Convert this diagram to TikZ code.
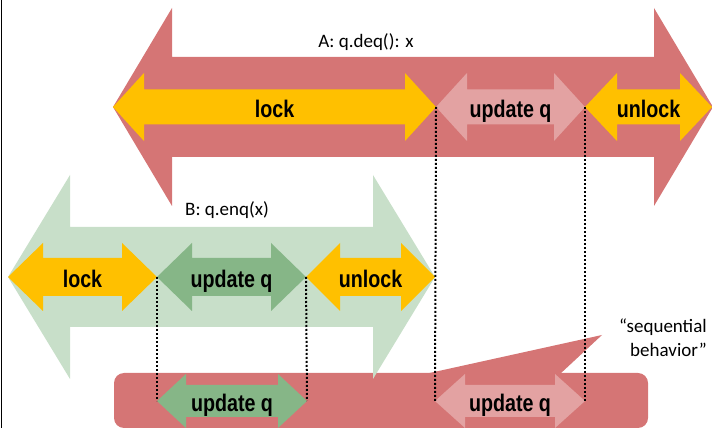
\documentclass[tikz,border=0pt]{standalone}
\usepackage{fontspec}
\setmainfont{Carlito}
\newfontfamily\lblfont{Liberation Sans Bold}[FakeStretch=0.82]
\definecolor{cRed}{HTML}{D57575}
\definecolor{cPink}{HTML}{E3A2A2}
\definecolor{cYel}{HTML}{FFC000}
\definecolor{cLGreen}{HTML}{C8DFC9}
\definecolor{cDGreen}{HTML}{86B687}
% #1 fill, #2 left tip x, #3 right tip x, #4 centre y, #5 head length, #6 head half height, #7 shaft half height
\newcommand{\dblarr}[7]{%
  \fill[#1] (#2,#4) -- (#2+#5,#4+#6) -- (#2+#5,#4+#7) -- (#3-#5,#4+#7) -- (#3-#5,#4+#6)
    -- (#3,#4) -- (#3-#5,#4-#6) -- (#3-#5,#4-#7) -- (#2+#5,#4-#7) -- (#2+#5,#4-#6) -- cycle;}
\tikzset{
  lbl/.style={font=\lblfont\fontsize{24}{24}\selectfont, anchor=base, inner sep=0pt, text=black},
  captxt/.style={font=\fontsize{19}{23}\selectfont, inner sep=0pt, text=black},
  vline/.style={line width=2pt, dash pattern=on 2pt off 2pt, black},
}
\begin{document}
\begin{tikzpicture}[x=1pt,y=1pt]
\useasboundingbox (0,0) rectangle (712,428);
% left frame line
\draw[line width=1pt] (1,0) -- (1,428);
% thread A
\dblarr{cRed}{113}{713}{321}{59}{99}{50}
\dblarr{cYel}{113}{436}{321}{31}{34}{17.5}
\dblarr{cPink}{436}{585}{321}{31}{34}{17.5}
\dblarr{cYel}{585}{712}{321}{32}{34}{17.5}
\node[captxt, anchor=base] (alabel) at (366,380) {A: q.deq(): x};
\node[lbl] (alock) at (274.5,310.5) {lock};
\node[lbl] (aupd) at (510.5,310.5) {update q};
\node[lbl] (aunl) at (648.5,310.5) {unlock};
% sequential box
\fill[cRed, rounded corners=10pt] (114,0) rectangle (648,55);
\fill[cRed] (425,54) -- (602,93) -- (560,54) -- cycle;
\node[captxt, anchor=base east] (seq1) at (707,95) {“sequential};
\node[captxt, anchor=base east] (seq2) at (707,71) {behavior”};
% thread B
\dblarr{cLGreen}{8}{435}{151}{62}{102}{50}
\dblarr{cYel}{8}{157}{151}{35}{34}{19}
\dblarr{cDGreen}{157}{306}{151}{35}{34}{19}
\dblarr{cYel}{306}{435}{151}{34}{34}{19}
\node[captxt, anchor=base] (blabel) at (227,212) {B: q.enq(x)};
\node[lbl] (block) at (82.5,140.5) {lock};
\node[lbl] (bupd) at (231.5,140.5) {update q};
\node[lbl] (bunl) at (370.5,140.5) {unlock};
% sequential updates
\dblarr{cDGreen}{157}{307}{27}{29}{27}{16}
\dblarr{cPink}{435}{585}{27}{30}{27}{16}
\node[lbl] (supdB) at (232,16.5) {update q};
\node[lbl] (supdA) at (510,16.5) {update q};
% dotted guide lines
\coordinate (a1) at (436,321);
\coordinate (a2) at (585,321);
\coordinate (b1) at (157,151);
\coordinate (b2) at (306,151);
\coordinate (s1) at (157,27);
\coordinate (s2) at (307,27);
\coordinate (s3) at (435,27);
\coordinate (s4) at (585,27);
\draw[vline] (a1) -- (s3);
\draw[vline] (a2) -- (s4);
\draw[vline] (b1) -- (s1);
\draw[vline] (b2) -- (s2);
\end{tikzpicture}
\end{document}
